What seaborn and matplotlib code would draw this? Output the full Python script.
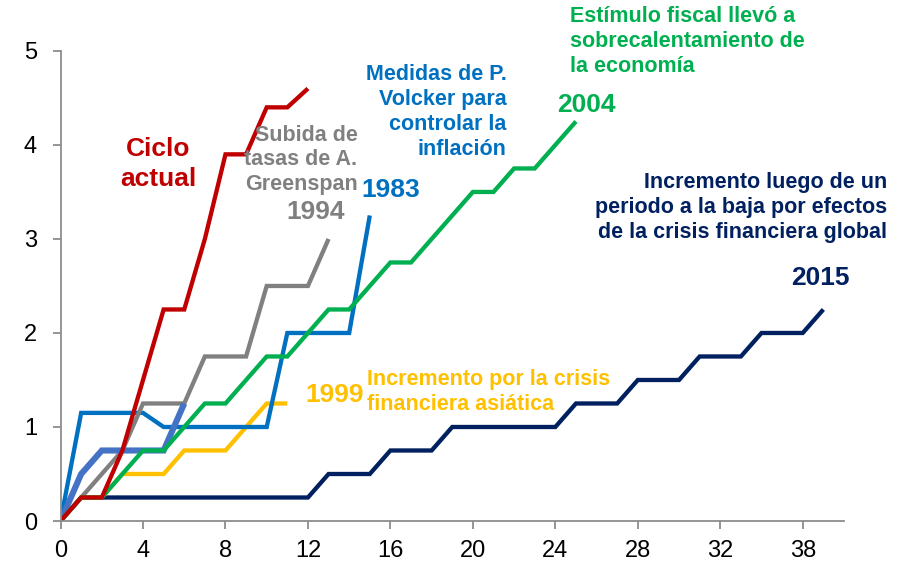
import numpy as np
import pandas as pd
import matplotlib
matplotlib.use("Agg")
import matplotlib.pyplot as plt
import seaborn as sns

# ---- data ----
x_ticks = [0, 4, 8, 12, 16, 20, 24, 28, 32, 36]
x_tick_labels = ["0", "4", "8", "12", "16", "20", "24", "28", "32", "38"]
y_ticks = [0, 1, 2, 3, 4, 5]

ciclo_actual = [0, 0.25, 0.25, 0.75, 1.5, 2.25, 2.25, 3.0, 3.9, 3.9, 4.4, 4.4, 4.6]
s1994 = [0, 0.25, 0.5, 0.75, 1.25, 1.25, 1.25, 1.75, 1.75, 1.75, 2.5, 2.5, 2.5, 3.0]
s1983 = [0, 1.15, 1.15, 1.15, 1.15, 1.0, 1.0, 1.0, 1.0, 1.0, 1.0, 2.0, 2.0, 2.0, 2.0, 3.25]
s_mid = [0, 0.5, 0.75, 0.75, 0.75, 0.75, 1.25]
s1999 = [0, 0.25, 0.25, 0.5, 0.5, 0.5, 0.75, 0.75, 0.75, 1.0, 1.25, 1.25]
s2004 = [0, 0.25, 0.25, 0.5, 0.75, 0.75, 1.0, 1.25, 1.25, 1.5, 1.75, 1.75, 2.0,
         2.25, 2.25, 2.5, 2.75, 2.75, 3.0, 3.25, 3.5, 3.5, 3.75, 3.75, 4.0, 4.25]
s2015 = [0, 0.25, 0.25, 0.25, 0.25, 0.25, 0.25, 0.25, 0.25, 0.25, 0.25, 0.25, 0.25,
         0.5, 0.5, 0.5, 0.75, 0.75, 0.75, 1.0, 1.0, 1.0, 1.0, 1.0, 1.0,
         1.25, 1.25, 1.25, 1.5, 1.5, 1.5, 1.75, 1.75, 1.75, 2.0, 2.0, 2.0, 2.25]

sns.set_theme(style="white")
plt.rcParams['font.family'] = ['Liberation Sans', 'DejaVu Sans']

fig = plt.figure(figsize=(9.01, 5.66), dpi=100)
ax = fig.add_axes([0.0672, 0.0795, 0.8695, 0.8305])

series = [
    ("2015", s2015, "#002060", 3.1),
    ("1999", s1999, "#FFC000", 3.1),
    ("1983", s1983, "#0070C0", 3.1),
    ("1994", s1994, "#808080", 3.1),
    ("mid", s_mid, "#4472C4", 4.4),
    ("2004", s2004, "#00B050", 3.1),
    ("actual", ciclo_actual, "#C00000", 3.1),
]
for name, vals, color, lw in series:
    df = pd.DataFrame({"x": np.arange(len(vals)), "y": vals})
    sns.lineplot(data=df, x="x", y="y", ax=ax, color=color, linewidth=lw,
                 solid_joinstyle="miter", solid_capstyle="butt")

ax.set_xlim(0, 38)
ax.set_ylim(0, 5)
ax.set_xticks(x_ticks)
ax.set_xticklabels(x_tick_labels)
ax.set_yticks(y_ticks)
ax.set_xlabel("")
ax.set_ylabel("")
for side in ["top", "right"]:
    ax.spines[side].set_visible(False)
for side in ["left", "bottom"]:
    ax.spines[side].set_color("#8C8C8C")
    ax.spines[side].set_linewidth(1.3)
ax.tick_params(axis="both", which="both", direction="out", length=6, width=1.3,
               color="#8C8C8C", labelsize=17, labelcolor="black")
ax.tick_params(axis="x", pad=8, bottom=True)
ax.tick_params(axis="y", pad=11, left=True)
ax.grid(False)

bold = dict(fontweight="bold")
small = 15.5
big = 19
ls = 1.25
ax.text(4.73, 3.80, "Ciclo\nactual", color="#C00000", fontsize=big, ha="center",
        va="center", linespacing=1.3, **bold)
ax.text(14.4, 3.84, "Subida de\ntasas de A.\nGreenspan", color="#808080", fontsize=small,
        ha="right", va="center", multialignment="right", linespacing=1.2, **bold)
ax.text(12.36, 3.29, "1994", color="#808080", fontsize=big, ha="center", va="center", **bold)
ax.text(16.04, 3.52, "1983", color="#0070C0", fontsize=big, ha="center", va="center", **bold)
ax.text(21.63, 4.35, "Medidas de P.\nVolcker para\ncontrolar la\ninflación", color="#0070C0",
        fontsize=small, ha="right", va="center", multialignment="right", linespacing=ls, **bold)
ax.text(25.5, 4.43, "2004", color="#00B050", fontsize=big, ha="center", va="center", **bold)
ax.text(24.73, 5.1, "Estímulo fiscal llevó a\nsobrecalentamiento de\nla economía", color="#00B050",
        fontsize=small, ha="left", va="center", multialignment="left", linespacing=ls,
        clip_on=False, **bold)
ax.text(40.1, 3.34, "Incremento luego de un\nperiodo a la baja por efectos\nde la crisis financiera global",
        color="#002060", fontsize=small, ha="right", va="center", multialignment="right",
        linespacing=ls, clip_on=False, **bold)
ax.text(36.87, 2.59, "2015", color="#002060", fontsize=big, ha="center", va="center", **bold)
ax.text(13.27, 1.34, "1999", color="#FFC000", fontsize=big, ha="center", va="center", **bold)
ax.text(14.88, 1.37, "Incremento por la crisis\nfinanciera asiática", color="#FFC000",
        fontsize=small, ha="left", va="center", multialignment="left", linespacing=ls, **bold)

fig.savefig("out.png", dpi=100)
